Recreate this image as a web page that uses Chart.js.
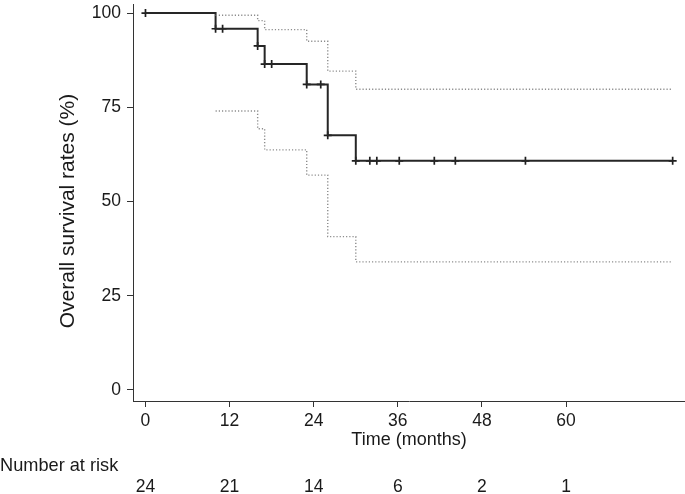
<!DOCTYPE html>
<html>
<head>
<meta charset="utf-8">
<title>Overall survival</title>
<script src="https://cdn.jsdelivr.net/npm/chart.js@4.4.1/dist/chart.umd.min.js"></script>
<style>
  html, body { margin: 0; padding: 0; background: #fff; overflow: hidden; }
  #wrap { width: 685px; height: 494px; position: relative; }
  #km-chart { display: block; }
</style>
</head>
<body>
<div id="wrap"><canvas id="km-chart"></canvas></div>
<script>
// Kaplan-Meier estimate (step values after each event time)
const eventTimes = [0, 10, 16, 17, 23, 26, 30, 75.2];
const survival = [100, 95.83, 91.27, 86.46, 81.06, 67.55, 60.8, 60.8];

// 95% confidence limits, same step times (starting at the first event)
const bandTimes = [10, 16, 17, 23, 26, 30, 75.2];
const upperLimit = [99.4, 98.0, 95.6, 92.5, 84.6, 79.8, 79.8];
const lowerLimit = [74.0, 69.3, 63.7, 57.0, 40.7, 34.0, 34.0];

// censored observations (+ marks)
const censorTimes = [0, 10, 11, 16, 17, 18, 23, 25, 26, 30, 32, 33, 36.2, 41.2, 44.2, 54.2, 75.2];
const censorSurv = [100, 95.83, 95.83, 91.27, 86.46, 86.46, 81.06, 81.06, 67.55, 60.8, 60.8, 60.8, 60.8, 60.8, 60.8, 60.8, 60.8];

const xTicks = [0, 12, 24, 36, 48, 60];
const yTicks = [0, 25, 50, 75, 100];

const yTitle = 'Overall survival rates (%)';
const riskTitle = 'Number at risk';
const riskTimes = [0, 12, 24, 36, 48, 60];
const riskCounts = [24, 21, 14, 6, 2, 1];

const FONT = '"Liberation Sans", Arial, Helvetica, sans-serif';
const INK = '#1a1a1a';

function toPoints(xs, ys) {
  return xs.map((x, i) => ({ x, y: ys[i] }));
}

// y title sits a little below the axis centre in the original, and the
// risk table lives under the x axis, so both are drawn here
const extraTextPlugin = {
  id: 'extraText',
  afterDraw(chart) {
    const { ctx } = chart;
    const xScale = chart.scales.x;
    ctx.save();
    ctx.fillStyle = INK;
    ctx.textBaseline = 'middle';

    ctx.save();
    ctx.font = `21px ${FONT}`;
    ctx.textAlign = 'center';
    ctx.translate(68, 211);
    ctx.rotate(-Math.PI / 2);
    ctx.fillText(yTitle, 0, 0);
    ctx.restore();

    ctx.font = `18.2px ${FONT}`;
    ctx.textAlign = 'left';
    ctx.fillText(riskTitle, 0, 466);
    ctx.font = `17.5px ${FONT}`;
    ctx.textAlign = 'center';
    riskTimes.forEach((t, i) => {
      ctx.fillText(String(riskCounts[i]), xScale.getPixelForValue(t), 487);
    });
    ctx.restore();
  },
};

const bandStyle = {
  borderColor: '#8c8c8c',
  borderWidth: 1.4,
  borderDash: [1.2, 2],
  pointRadius: 0,
  stepped: 'before',
  fill: false,
};

new Chart(document.getElementById('km-chart'), {
  type: 'line',
  data: {
    datasets: [
      { label: 'upper', data: toPoints(bandTimes, upperLimit), ...bandStyle },
      { label: 'lower', data: toPoints(bandTimes, lowerLimit), ...bandStyle },
      {
        label: 'survival',
        data: toPoints(eventTimes, survival),
        borderColor: '#262626',
        borderWidth: 2,
        pointRadius: 0,
        stepped: 'before',
        fill: false,
      },
      {
        label: 'censored',
        type: 'scatter',
        data: toPoints(censorTimes, censorSurv),
        pointStyle: 'cross',
        pointRadius: 4,
        borderColor: '#1e1e1e',
        borderWidth: 1.7,
        showLine: false,
      },
    ],
  },
  options: {
    responsive: true,
    maintainAspectRatio: false,
    animation: false,
    layout: { autoPadding: false, padding: { left: 53, right: 0, top: 4, bottom: 39 } },
    plugins: {
      legend: { display: false },
      tooltip: { enabled: false },
    },
    scales: {
      x: {
        type: 'linear',
        min: -1.78,
        max: 76.96,
        afterBuildTicks: (scale) => { scale.ticks = xTicks.map((v) => ({ value: v })); },
        afterFit: (scale) => { scale.height = 54; scale.paddingLeft = 0; scale.paddingRight = 0; },
        border: { display: true, color: '#333', width: 1 },
        grid: { drawOnChartArea: false, drawTicks: true, tickLength: 6, color: '#333' },
        ticks: { color: INK, font: { family: FONT, size: 17.5 }, padding: 4, maxRotation: 0 },
        title: { display: true, text: 'Time (months)', color: INK, font: { family: FONT, size: 18 }, padding: { top: 0, bottom: 4 } },
      },
      y: {
        type: 'linear',
        min: -2.92,
        max: 102.4,
        afterBuildTicks: (scale) => { scale.ticks = yTicks.map((v) => ({ value: v })); },
        afterFit: (scale) => { scale.width = 80; scale.paddingTop = 0; scale.paddingBottom = 0; },
        border: { display: true, color: '#333', width: 1 },
        grid: { drawOnChartArea: false, drawTicks: true, tickLength: 6, color: '#333' },
        ticks: { color: INK, font: { family: FONT, size: 17.5 }, padding: 6 },
        title: { display: false },
      },
    },
  },
  plugins: [extraTextPlugin],
});
</script>
</body>
</html>
